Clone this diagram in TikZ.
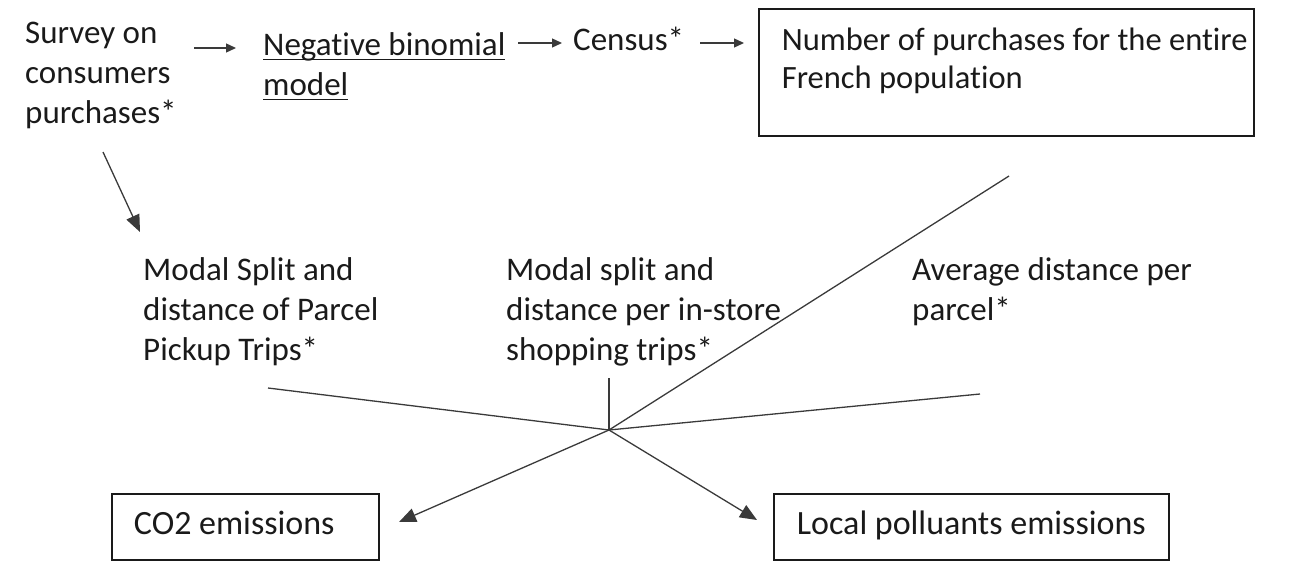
\documentclass[tikz,border=0pt]{standalone}
\usepackage{fontspec}
\setmainfont{Carlito}[RawFeature={-liga;-clig;-dlig}]
\usetikzlibrary{arrows.meta}
\definecolor{ink}{HTML}{1A1A1A}
\definecolor{ln}{HTML}{3A3A3A}
\newcommand\ulin[1]{\setbox0\hbox{#1}\rlap{\rule[-5pt]{\wd0}{1.4pt}}\box0}
\tikzset{
  txt/.style={anchor=north west, inner sep=0pt, align=flush left, text=ink,
    font=\fontsize{33}{40}\selectfont},
  boxst/.style={draw=ink, line width=1.8pt, inner sep=0pt, text=ink,
    font=\fontsize{34}{40}\selectfont, anchor=north west},
  conn/.style={draw=ln, line width=1.3pt},
  smallarr/.style={conn, -{Triangle[length=10pt,width=9pt]}},
  bigarr/.style={conn, -{Triangle[length=17pt,width=14pt]}}
}
\begin{document}
\begin{tikzpicture}[x=1pt,y=-1pt]
\useasboundingbox (0,0) rectangle (1296,560);

% text nodes
\node[txt] (survey) at (25,15) {\strut Survey on\\consumers\\purchases*};
\node[txt] (negbin) at (263,27) {\strut\ulin{Negative binomial}\\\ulin{model}};
\node[txt] (census) at (573,22) {\strut Census*};
\node[boxst] (pop) at (758,8)
  {\parbox[c][127pt][t]{495pt}{\fontsize{32.5}{38}\selectfont\raggedright\leftskip=23pt\vspace*{15pt}\strut Number of purchases for the entire\\French population}};
\node[txt] (pickup) at (143,252) {\strut Modal Split and\\distance of Parcel\\Pickup Trips*};
\node[txt] (instore) at (506,252) {\strut Modal split and\\distance per in-store\\shopping trips*};
\node[txt] (avgdist) at (912,252) {\strut Average distance per\\parcel*};
\node[boxst, minimum height=66pt, text width=267pt, align=flush left] (co2) at (111,493) {\hspace*{22pt}\strut CO2 emissions};
\node[boxst, minimum height=66pt, text width=395pt, align=flush left] (local) at (773,493) {\hspace*{23pt}\strut Local polluants emissions};

% connector ends
\coordinate (a1s) at (194,48);  \coordinate (a1e) at (236,48);
\coordinate (a2s) at (518,43);  \coordinate (a2e) at (562,43);
\coordinate (a3s) at (700,43);  \coordinate (a3e) at (744,43);
\coordinate (dgs) at (103,152); \coordinate (dge) at (140,232);
\coordinate (hub) at (609,430);
\coordinate (l1) at (268,388);
\coordinate (l2) at (609,378);
\coordinate (l3) at (980,394);
\coordinate (l4) at (1009,176);
\coordinate (co2tip) at (399,522);
\coordinate (loctip) at (757,520);

\draw[smallarr] (a1s) -- (a1e);
\draw[smallarr] (a2s) -- (a2e);
\draw[smallarr] (a3s) -- (a3e);
\draw[bigarr] (dgs) -- (dge);
\draw[conn] (l1) -- (hub);
\draw[conn] (l2) -- (hub);
\draw[conn] (l3) -- (hub);
\draw[conn] (l4) -- (hub);
\draw[bigarr] (hub) -- (co2tip);
\draw[bigarr] (hub) -- (loctip);
\end{tikzpicture}
\end{document}
